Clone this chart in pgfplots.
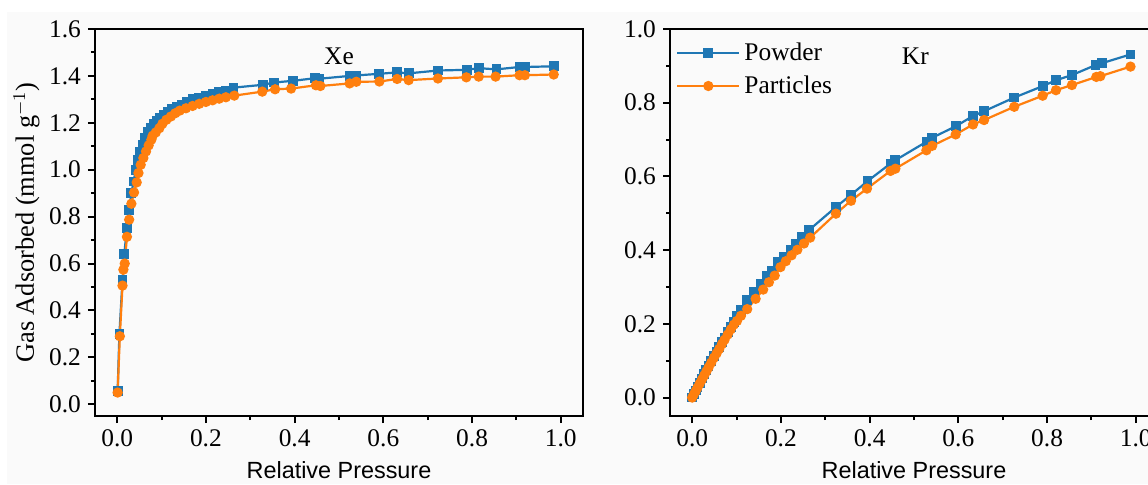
\documentclass[border=0pt]{standalone}
\usepackage{fontspec}
\setmainfont{Liberation Serif}
\newfontfamily\arial{Liberation Sans}
\usepackage{pgfplots}
\pgfplotsset{compat=1.18}
\definecolor{cblue}{RGB}{31,119,180}
\definecolor{corange}{RGB}{255,127,14}
\definecolor{bg}{RGB}{250,250,250}
\pgfplotsset{
  panel/.style={
    scale only axis, width=244pt, height=193.5pt,
    xmin=-0.05, xmax=1.05,
    xtick={0,0.2,0.4,0.6,0.8,1},
    minor x tick num=1, minor y tick num=1,
    tick align=outside, xtick pos=bottom, ytick pos=left,
    axis line style={line width=1.2pt},
    major tick length=3.5pt, minor tick length=2pt,
    every tick/.style={black, line width=1pt},
    ticklabel style={font=\fontsize{12.7}{15}\selectfont},
    /pgf/number format/.cd, fixed, fixed zerofill, precision=1, assume math mode=true,
    /pgfplots/.cd,
    xlabel={\arial\fontsize{11.7}{14}\selectfont Relative Pressure},
    axis background/.style={fill=bg},
  },
  pw/.style={cblue, line width=1.1pt, mark=square*, mark size=1.9pt, mark options={solid, fill=cblue, draw=cblue}},
  pa/.style={corange, line width=1.1pt, mark=*, mark size=2pt, mark options={solid, fill=corange, draw=corange}},
}
\begin{document}
\begin{tikzpicture}
\fill[bg] (3.5pt,0pt) rectangle (574pt,236pt);
% ---------- Xe ----------
\begin{axis}[panel, at={(47.5pt,34pt)}, anchor=south west,
  ymin=-0.05, ymax=1.6, ytick={0,0.2,0.4,0.6,0.8,1.0,1.2,1.4,1.6},
  ylabel={\fontsize{13.2}{15}\selectfont Gas Adsorbed (mmol g$^{-1}$)},
  ylabel style={yshift=-2pt}]
\addplot[pw] coordinates {
(0.001,0.055) (0.005,0.30) (0.012,0.53) (0.016,0.64) (0.022,0.75) (0.027,0.83)
(0.032,0.90) (0.037,0.95) (0.042,1.00) (0.047,1.04) (0.052,1.075) (0.057,1.105)
(0.063,1.135) (0.069,1.16) (0.076,1.18) (0.083,1.195) (0.090,1.21) (0.097,1.222)
(0.105,1.234) (0.114,1.246) (0.124,1.258) (0.134,1.268) (0.145,1.278) (0.157,1.29)
(0.170,1.30) (0.185,1.308) (0.200,1.315) (0.215,1.322) (0.230,1.330) (0.245,1.338)
(0.262,1.350) (0.328,1.362) (0.354,1.372) (0.396,1.379) (0.445,1.390) (0.456,1.388)
(0.524,1.400) (0.539,1.402) (0.591,1.409) (0.631,1.415) (0.657,1.411) (0.723,1.423)
(0.789,1.426) (0.815,1.433) (0.855,1.428) (0.907,1.438) (0.919,1.438) (0.984,1.441)
};
\addplot[pa] coordinates {
(0.001,0.05) (0.006,0.29) (0.012,0.506) (0.014,0.574) (0.017,0.60) (0.022,0.714)
(0.027,0.787) (0.032,0.855) (0.038,0.903) (0.044,0.946) (0.048,0.986) (0.053,1.021)
(0.059,1.05) (0.065,1.078) (0.071,1.104) (0.077,1.128) (0.080,1.145) (0.087,1.159)
(0.095,1.177) (0.102,1.196) (0.111,1.213) (0.121,1.227) (0.131,1.241) (0.141,1.252)
(0.155,1.262) (0.170,1.272) (0.185,1.281) (0.200,1.289) (0.215,1.296) (0.230,1.303)
(0.245,1.309) (0.264,1.316) (0.327,1.333) (0.356,1.343) (0.392,1.346) (0.448,1.360)
(0.458,1.357) (0.524,1.368) (0.539,1.375) (0.591,1.376) (0.631,1.387) (0.657,1.382)
(0.723,1.389) (0.787,1.394) (0.815,1.397) (0.853,1.397) (0.907,1.403) (0.919,1.403)
(0.984,1.406)
};
\node[font=\fontsize{12.7}{15}\selectfont] at (axis cs:0.5,1.482) {Xe};
\end{axis}
% ---------- Kr ----------
\begin{axis}[panel, at={(335pt,34pt)}, anchor=south west,
  ymin=-0.05, ymax=1.0, ytick={0,0.2,0.4,0.6,0.8,1.0},
  legend style={at={(axis description cs:0.012,0.975)}, anchor=north west,
    draw=none, fill=none, inner sep=0pt, row sep=2pt,
    font=\fontsize{12.7}{15}\selectfont},
  legend cell align=left,
  legend image code/.code={\draw[mark repeat=2,mark phase=2,#1] plot coordinates {(0pt,0pt) (15.5pt,0pt) (31pt,0pt)};}]
\addplot[pw] coordinates {
(0.000,0.000) (0.004,0.010) (0.008,0.019) (0.012,0.029) (0.017,0.040) (0.022,0.052)
(0.027,0.063) (0.032,0.075) (0.037,0.086) (0.043,0.099) (0.049,0.112) (0.055,0.125)
(0.061,0.138) (0.067,0.151) (0.073,0.163) (0.080,0.178) (0.087,0.192) (0.094,0.206)
(0.101,0.222) (0.110,0.238) (0.124,0.264) (0.140,0.286) (0.154,0.309) (0.168,0.329)
(0.180,0.345) (0.193,0.368) (0.207,0.383) (0.222,0.400) (0.233,0.418) (0.248,0.436)
(0.263,0.454) (0.324,0.517) (0.358,0.550) (0.395,0.587) (0.447,0.635) (0.458,0.644)
(0.528,0.694) (0.541,0.705) (0.594,0.736) (0.633,0.764) (0.658,0.777) (0.726,0.814)
(0.790,0.845) (0.820,0.861) (0.856,0.875) (0.909,0.902) (0.923,0.907) (0.988,0.931)
};
\addlegendentry{Powder}
\addplot[pa] coordinates {
(0.000,0.000) (0.004,0.009) (0.008,0.018) (0.012,0.027) (0.017,0.038) (0.022,0.049)
(0.027,0.060) (0.032,0.071) (0.037,0.082) (0.043,0.095) (0.049,0.108) (0.055,0.120)
(0.061,0.132) (0.067,0.145) (0.073,0.157) (0.080,0.171) (0.087,0.185) (0.094,0.198)
(0.101,0.208) (0.110,0.222) (0.124,0.240) (0.143,0.268) (0.160,0.293) (0.173,0.313)
(0.186,0.331) (0.199,0.354) (0.211,0.370) (0.224,0.386) (0.237,0.401) (0.252,0.418)
(0.266,0.434) (0.324,0.499) (0.358,0.534) (0.394,0.567) (0.447,0.615) (0.458,0.621)
(0.528,0.671) (0.541,0.683) (0.594,0.714) (0.633,0.741) (0.658,0.753) (0.726,0.789)
(0.790,0.819) (0.820,0.834) (0.856,0.848) (0.911,0.870) (0.920,0.872) (0.988,0.898)
};
\addlegendentry{Particles}
\node[font=\fontsize{12.7}{15}\selectfont] at (axis cs:0.503,0.925) {Kr};
\end{axis}
\pgfresetboundingbox
\useasboundingbox (0,0) rectangle (574pt,242pt);
\end{tikzpicture}
\end{document}
